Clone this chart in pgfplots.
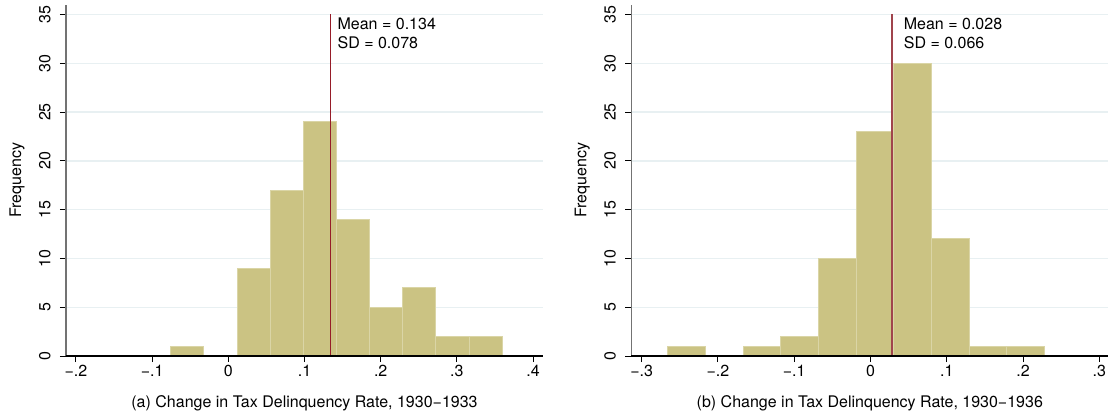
\documentclass[border=0pt]{standalone}
\usepackage{fontspec}
\setmainfont{TeX Gyre Heros}
\usepackage{pgfplots}
\pgfplotsset{compat=1.18}
\definecolor{barfill}{RGB}{203,195,131}
\definecolor{baredge}{RGB}{218,213,166}
\definecolor{gridc}{RGB}{232,240,242}
\definecolor{meana}{RGB}{150,28,40}
\definecolor{meanb}{RGB}{160,68,76}
\pgfplotsset{
  stataax/.style={
    scale only axis, width=477pt, height=351.3pt,
    ymin=0, ymax=36,
    axis x line*=bottom, axis y line*=left,
    x axis line style={black, line width=1.1pt},
    y axis line style={black!55, line width=1.6pt},
    tick align=outside, major tick length=6pt,
    every tick/.style={black, line width=1pt},
    ytick={0,5,10,15,20,25,30,35},
    yticklabels={0,5,10,15,20,25,30,35},
    ymajorgrids, major grid style={gridc, line width=1.4pt},
    font=\fontsize{16}{19}\selectfont,
    tick label style={font=\fontsize{16}{19}\selectfont},
    /pgf/number format/assume math mode=true,
    yticklabel style={rotate=90, anchor=south, inner sep=0pt, outer sep=9.5pt},
    xticklabel style={anchor=north, inner sep=0pt, yshift=-3pt},
    xlabel style={at={(axis description cs:0.5,-0.1466)}, anchor=base},
    ylabel style={at={(axis description cs:-0.1027,0.5)}, anchor=center, rotate=0},
    ylabel={Frequency},
    clip=false,
  }
}
\begin{document}
\begin{tikzpicture}
\begin{axis}[stataax, at={(66pt,59pt)}, anchor=south west,
  xmin=-0.2131, xmax=0.4131,
  xtick={-0.2,-0.1,0,0.1,0.2,0.3,0.4},
  xticklabels={−.2,−.1,0,.1,.2,.3,.4},
  xlabel={(a) Change in Tax Delinquency Rate, 1930−1933}]
\addplot[ybar interval, fill=barfill, draw=baredge, line width=1pt] coordinates {
(-0.0756,1) (-0.0321,0) (0.0114,9) (0.0550,17) (0.0985,24) (0.1420,14)
(0.1855,5) (0.2291,7) (0.2726,2) (0.3161,2) (0.3596,0)};
\addplot[meana, line width=1.3pt] coordinates {(0.134,0) (0.134,35)};
\draw[black, line width=1.1pt] (rel axis cs:0,0) -- (rel axis cs:1,0);
\node[anchor=west, inner sep=0pt] at (axis cs:0.1432,34) {Mean = 0.134};
\node[anchor=west, inner sep=0pt] at (axis cs:0.1432,32.1) {SD = 0.078};
\end{axis}
\begin{axis}[stataax, at={(631.3pt,59pt)}, anchor=south west,
  xmin=-0.3136, xmax=0.3118,
  xtick={-0.3,-0.2,-0.1,0,0.1,0.2,0.3},
  xticklabels={−.3,−.2,−.1,0,.1,.2,.3},
  xlabel={(b) Change in Tax Delinquency Rate, 1930−1936}]
\addplot[ybar interval, fill=barfill, draw=baredge, line width=1pt] coordinates {
(-0.2657,1) (-0.2163,0) (-0.1670,1) (-0.1176,2) (-0.0682,10) (-0.0189,23)
(0.0305,30) (0.0799,12) (0.1292,1) (0.1786,1) (0.2280,0)};
\addplot[meanb, line width=1.3pt] coordinates {(0.028,0) (0.028,35)};
\draw[black, line width=1.1pt] (rel axis cs:0,0) -- (rel axis cs:1,0);
\node[anchor=west, inner sep=0pt] at (axis cs:0.0435,34) {Mean = 0.028};
\node[anchor=west, inner sep=0pt] at (axis cs:0.0435,32.1) {SD = 0.066};
\end{axis}
\pgfresetboundingbox
\path[use as bounding box] (0,0) rectangle (1110pt,415pt);
\end{tikzpicture}
\end{document}
